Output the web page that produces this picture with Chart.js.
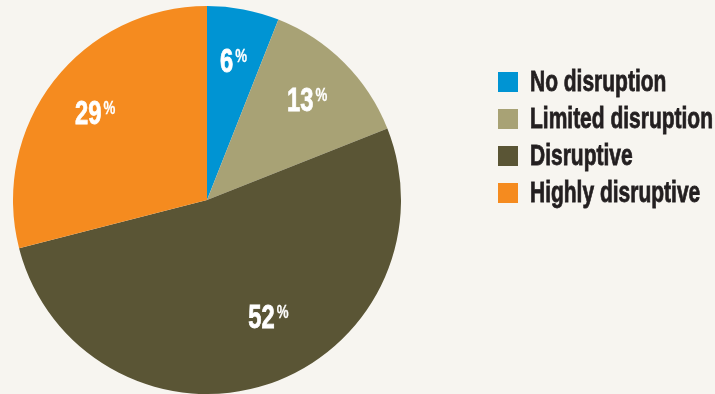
<!DOCTYPE html>
<html>
<head>
<meta charset="utf-8">
<script src="https://cdn.jsdelivr.net/npm/chart.js@4"></script>
<style>
  html, body { margin: 0; padding: 0; background: #f7f5f0; }
  #wrap { width: 715px; height: 394px; position: relative; }
</style>
</head>
<body>
<div id="wrap"><canvas id="chart" width="715" height="394"></canvas></div>
<script>
const categories = ['No disruption', 'Limited disruption', 'Disruptive', 'Highly disruptive'];
const shares = [6, 13, 52, 29];
const sliceColors = ['#0094d3', '#a8a275', '#5a5535', '#f58b1f'];

const FONT = '"Liberation Sans", Arial, sans-serif';

// draws text squeezed horizontally to mimic a condensed face, a little heavier
function squeezed(ctx, txt, x, y, sx, weight) {
  ctx.save();
  ctx.translate(x, y);
  ctx.scale(sx, 1);
  ctx.fillText(txt, 0, 0);
  if (weight) {
    ctx.lineWidth = weight;
    ctx.strokeStyle = ctx.fillStyle;
    ctx.strokeText(txt, 0, 0);
  }
  ctx.restore();
}

const sliceLabels = {
  id: 'sliceLabels',
  afterDatasetsDraw(chart) {
    const ctx = chart.ctx;
    const meta = chart.getDatasetMeta(0);
    const sx = 0.72;
    meta.data.forEach((arc, i) => {
      const p = arc.getProps(['x', 'y', 'startAngle', 'endAngle', 'outerRadius'], true);
      const mid = (p.startAngle + p.endAngle) / 2;
      const r = p.outerRadius * (i === 2 ? 0.68 : 0.73);
      const a = i === 2 ? mid - 0.17 : mid;
      const cx = p.x + Math.cos(a) * r;
      const cy = p.y + Math.sin(a) * r;
      ctx.save();
      ctx.fillStyle = '#ffffff';
      ctx.textBaseline = 'alphabetic';
      ctx.textAlign = 'left';
      ctx.font = 'bold 33px ' + FONT;
      const num = String(shares[i]);
      const nw = ctx.measureText(num).width * sx;
      ctx.font = 'bold 19px ' + FONT;
      const pw = ctx.measureText('%').width * 0.7;
      const total = nw + 2 + pw;
      const left = cx - total / 2;
      const base = cy + 11;
      ctx.font = 'bold 33px ' + FONT;
      squeezed(ctx, num, left, base, sx, 0.8);
      ctx.font = 'bold 19px ' + FONT;
      squeezed(ctx, '%', left + nw + 2, base - 10, 0.7, 0.3);
      ctx.restore();
    });
  }
};

const sideLegend = {
  id: 'sideLegend',
  afterDraw(chart) {
    const ctx = chart.ctx;
    ctx.save();
    ctx.font = 'bold 29px ' + FONT;
    const sx = 183 / ctx.measureText('Limited disruption').width;
    ctx.textBaseline = 'middle';
    ctx.textAlign = 'left';
    categories.forEach((name, i) => {
      const cy = 82 + i * 37;
      ctx.fillStyle = sliceColors[i];
      ctx.fillRect(498, cy - 10, 20, 20);
      ctx.fillStyle = '#231f20';
      squeezed(ctx, name, 530, cy + 1, sx, 0.8);
    });
    ctx.restore();
  }
};

new Chart(document.getElementById('chart'), {
  type: 'pie',
  data: {
    labels: categories,
    datasets: [{
      data: shares,
      backgroundColor: sliceColors,
      borderWidth: 0
    }]
  },
  options: {
    responsive: false,
    animation: false,
    layout: { padding: { left: 13, top: 6, right: 314, bottom: 0 } },
    plugins: {
      legend: { display: false },
      tooltip: { enabled: false }
    }
  },
  plugins: [sliceLabels, sideLegend]
});
</script>
</body>
</html>
